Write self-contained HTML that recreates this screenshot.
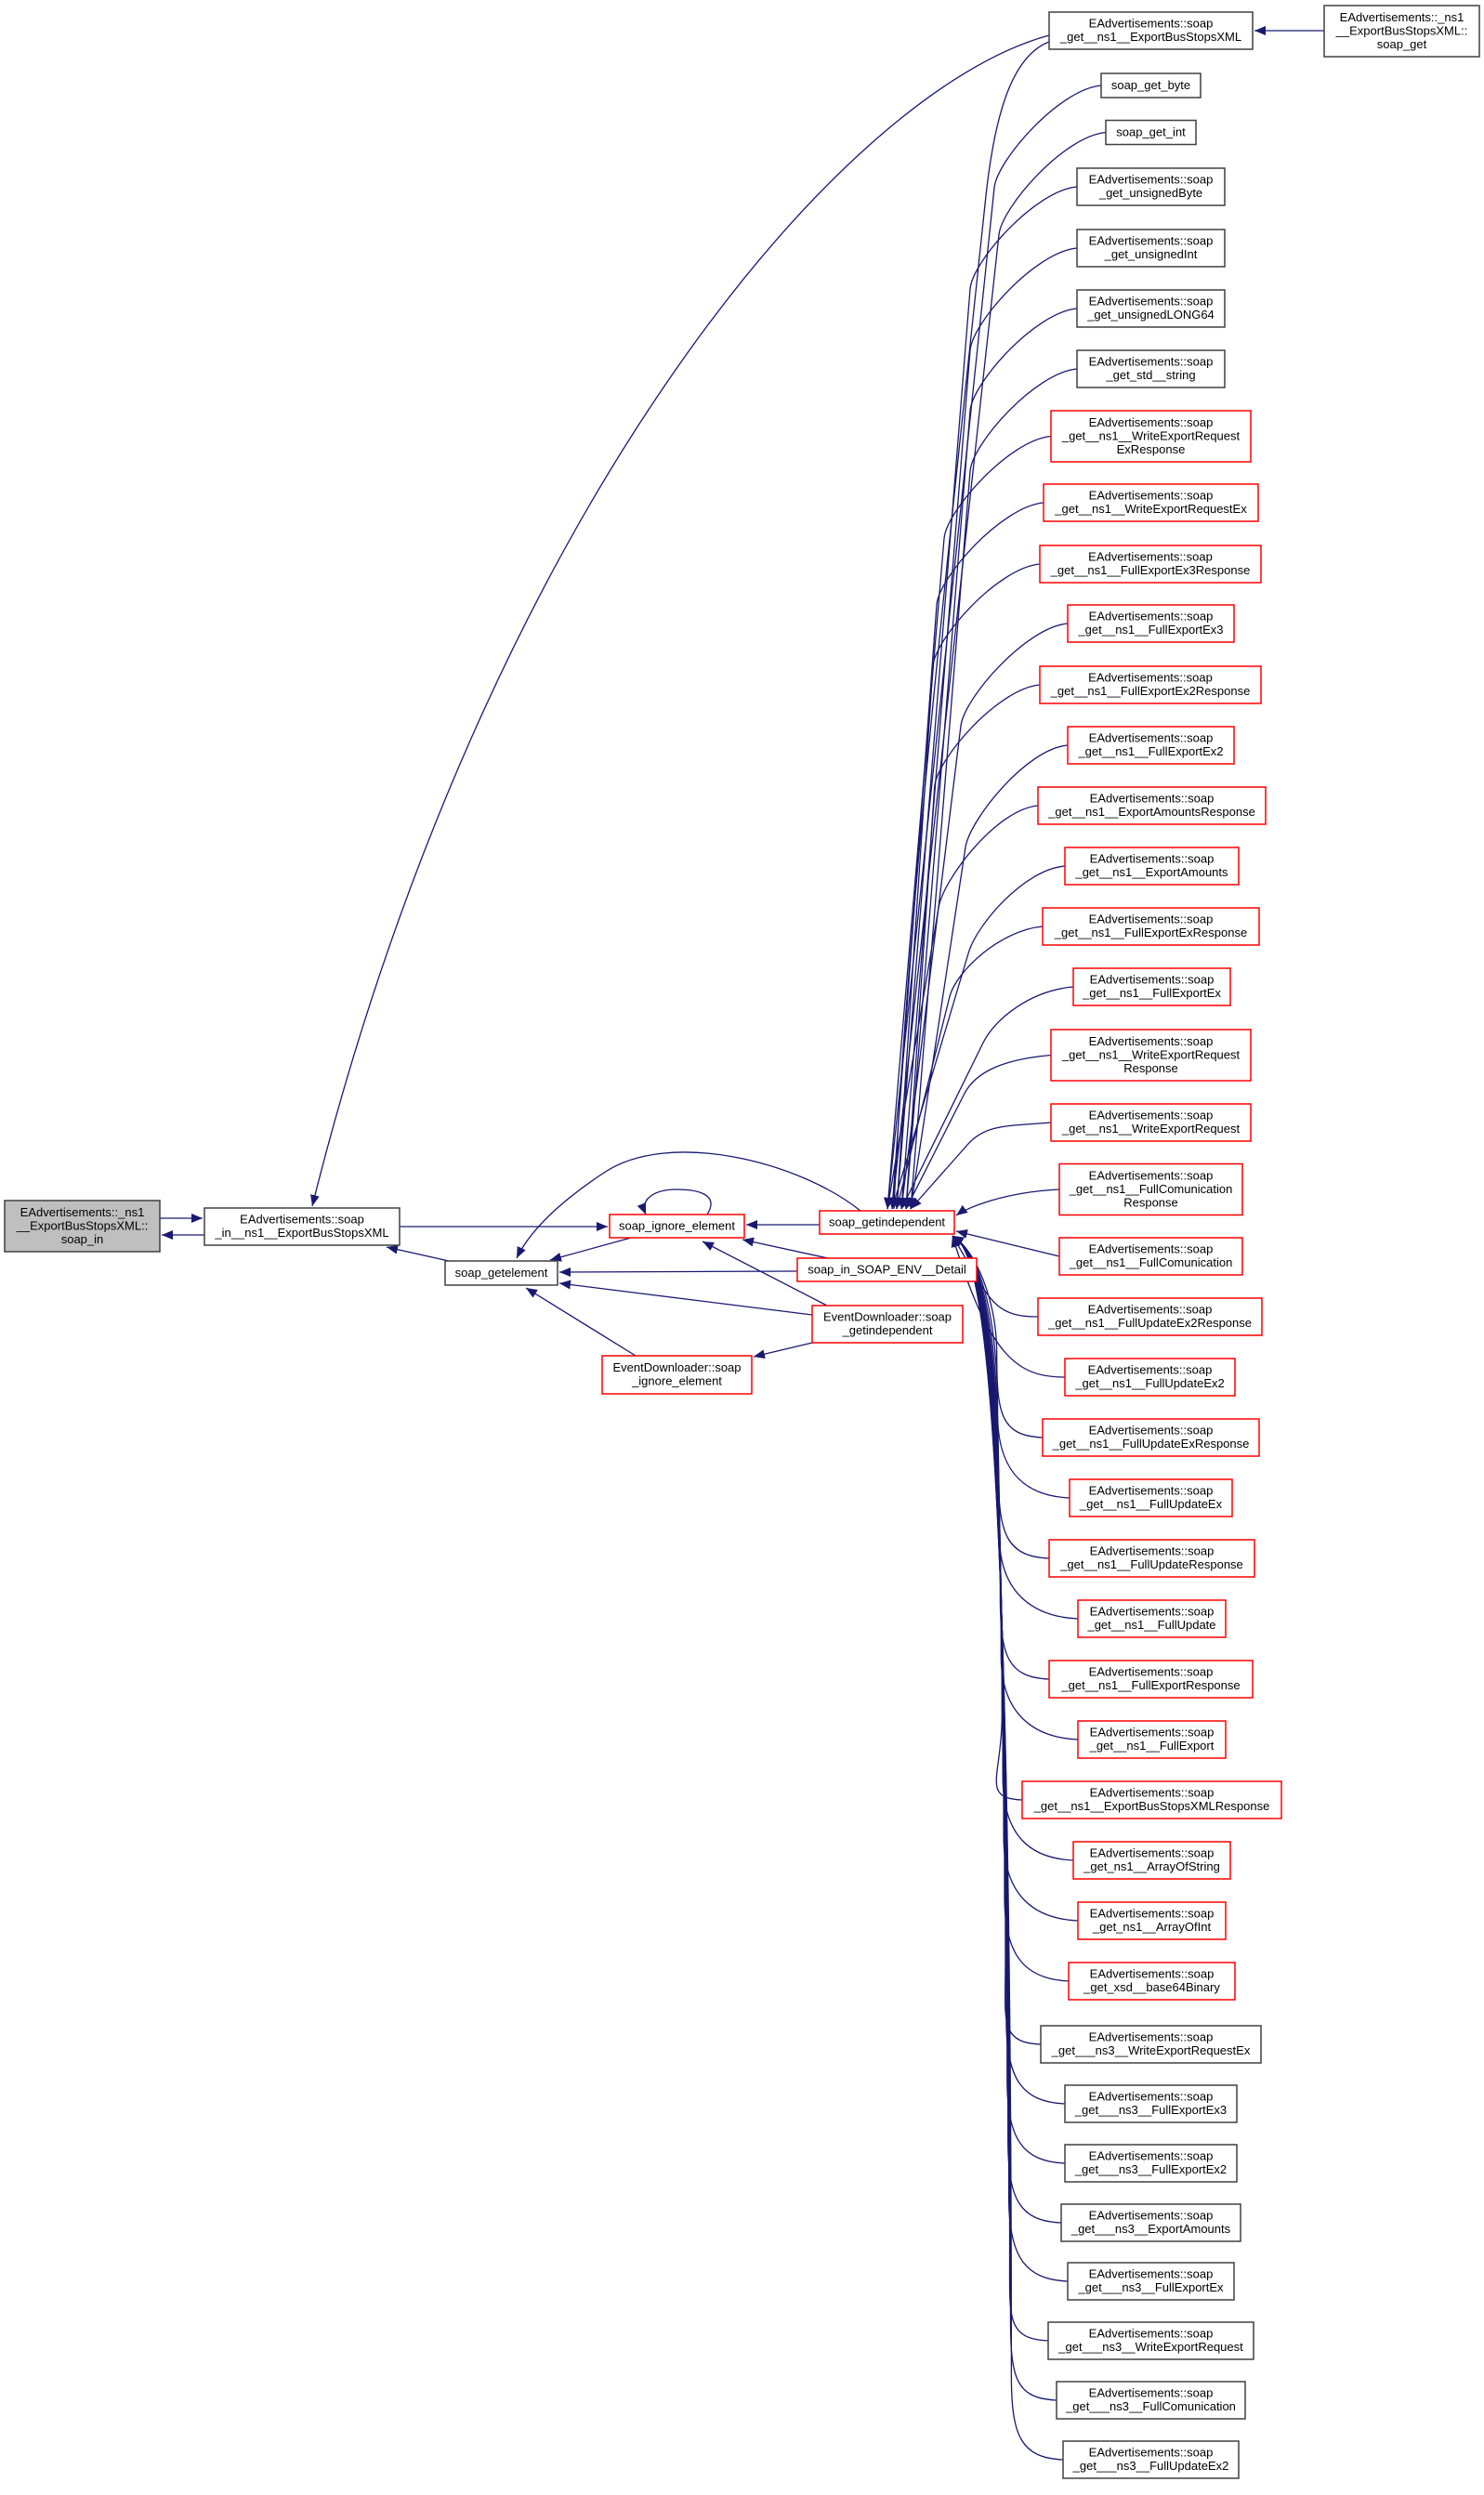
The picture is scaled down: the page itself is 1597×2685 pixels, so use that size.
<!DOCTYPE html>
<html><head><meta charset="utf-8"><style>
html,body{margin:0;padding:0;background:#fff;}
svg{display:block;}
text{font-family:"Liberation Sans",Arial,sans-serif;font-size:13px;fill:#000;}
</style></head><body>
<svg id="s" width="1597" height="2685" viewBox="0 0 1597 2685" xmlns="http://www.w3.org/2000/svg">
<defs>
<marker id="a" markerUnits="userSpaceOnUse" markerWidth="14" markerHeight="12" refX="12" refY="5" orient="auto">
<path d="M0,0 L12,5 L0,10 Z" fill="#191970"/>
</marker>
</defs>
<g id="edges" fill="none" stroke="#191970" stroke-width="1.3"></g>
<g id="nodes"></g>
</svg>
<script>
var E=document.getElementById('edges'),N=document.getElementById('nodes');
var ns='http://www.w3.org/2000/svg';
function path(d){var p=document.createElementNS(ns,'path');p.setAttribute('d',d);p.setAttribute('marker-end','url(#a)');E.appendChild(p);}
function node(x1,y1,x2,y2,lines,col,fill){
 var r=document.createElementNS(ns,'rect');
 r.setAttribute('x',x1);r.setAttribute('y',y1);r.setAttribute('width',x2-x1);r.setAttribute('height',y2-y1);
 r.setAttribute('fill',fill||'#fff');r.setAttribute('stroke',col);r.setAttribute('stroke-width','1.5');N.appendChild(r);
 var n=lines.length,lh=14.5,top=(y1+y2)/2-(n*lh)/2+11;
 for(var i=0;i<n;i++){var t=document.createElementNS(ns,'text');t.setAttribute('x',(x1+x2)/2);t.setAttribute('y',top+i*lh);t.setAttribute('text-anchor','middle');t.textContent=lines[i];N.appendChild(t);}
}
var R='#ff0000',B='#404040';
var nodesR=[
[1185,1292,92,1,['soap_get_byte'],B],
[1190,1287,142.5,1,['soap_get_int'],B],
[1159,1318,201,2,['EAdvertisements::soap','_get_unsignedByte'],B],
[1159,1318,267,2,['EAdvertisements::soap','_get_unsignedInt'],B],
[1159,1318,332,2,['EAdvertisements::soap','_get_unsignedLONG64'],B],
[1159,1318,397,2,['EAdvertisements::soap','_get_std__string'],B],
[1131,1346,469.5,3,['EAdvertisements::soap','_get__ns1__WriteExportRequest','ExResponse'],R],
[1123,1354,541,2,['EAdvertisements::soap','_get__ns1__WriteExportRequestEx'],R],
[1119,1357,607,2,['EAdvertisements::soap','_get__ns1__FullExportEx3Response'],R],
[1149,1328,671,2,['EAdvertisements::soap','_get__ns1__FullExportEx3'],R],
[1119,1357,737,2,['EAdvertisements::soap','_get__ns1__FullExportEx2Response'],R],
[1149,1328,802,2,['EAdvertisements::soap','_get__ns1__FullExportEx2'],R],
[1117,1362,867,2,['EAdvertisements::soap','_get__ns1__ExportAmountsResponse'],R],
[1146,1333,932,2,['EAdvertisements::soap','_get__ns1__ExportAmounts'],R],
[1122,1355,997,2,['EAdvertisements::soap','_get__ns1__FullExportExResponse'],R],
[1155,1324,1062,2,['EAdvertisements::soap','_get__ns1__FullExportEx'],R],
[1131,1346,1135.5,3,['EAdvertisements::soap','_get__ns1__WriteExportRequest','Response'],R],
[1131,1346,1208,2,['EAdvertisements::soap','_get__ns1__WriteExportRequest'],R],
[1140,1337,1280,3,['EAdvertisements::soap','_get__ns1__FullComunication','Response'],R],
[1140,1337,1352,2,['EAdvertisements::soap','_get__ns1__FullComunication'],R],
[1117,1358,1417,2,['EAdvertisements::soap','_get__ns1__FullUpdateEx2Response'],R],
[1146,1329,1482,2,['EAdvertisements::soap','_get__ns1__FullUpdateEx2'],R],
[1122,1355,1547,2,['EAdvertisements::soap','_get__ns1__FullUpdateExResponse'],R],
[1151,1326,1612,2,['EAdvertisements::soap','_get__ns1__FullUpdateEx'],R],
[1129,1350,1677,2,['EAdvertisements::soap','_get__ns1__FullUpdateResponse'],R],
[1160,1319,1742,2,['EAdvertisements::soap','_get__ns1__FullUpdate'],R],
[1129,1348,1807,2,['EAdvertisements::soap','_get__ns1__FullExportResponse'],R],
[1160,1319,1872,2,['EAdvertisements::soap','_get__ns1__FullExport'],R],
[1100,1379,1937,2,['EAdvertisements::soap','_get__ns1__ExportBusStopsXMLResponse'],R],
[1155,1324,2002,2,['EAdvertisements::soap','_get_ns1__ArrayOfString'],R],
[1160,1319,2067,2,['EAdvertisements::soap','_get_ns1__ArrayOfInt'],R],
[1150,1329,2132,2,['EAdvertisements::soap','_get_xsd__base64Binary'],R],
[1120,1357,2200,2,['EAdvertisements::soap','_get___ns3__WriteExportRequestEx'],B],
[1146,1331,2264,2,['EAdvertisements::soap','_get___ns3__FullExportEx3'],B],
[1146,1331,2328,2,['EAdvertisements::soap','_get___ns3__FullExportEx2'],B],
[1142,1335,2392,2,['EAdvertisements::soap','_get___ns3__ExportAmounts'],B],
[1149,1328,2455,2,['EAdvertisements::soap','_get___ns3__FullExportEx'],B],
[1128,1349,2519,2,['EAdvertisements::soap','_get___ns3__WriteExportRequest'],B],
[1137,1340,2583,2,['EAdvertisements::soap','_get___ns3__FullComunication'],B],
[1144,1333,2647,2,['EAdvertisements::soap','_get___ns3__FullUpdateEx2'],B]
];
path('M1129,45 C1090,60 1070,120 1060,220 C1020,600 975,1000 962,1301');
var k=0;
nodesR.forEach(function(n){
 var xl=n[0],yc=n[2];
 if(yc<1250){
  var ex=955+(k%6)*5;k++;
  var d=1303-yc;
  var mx=xl-85-Math.min(30,d*0.05), my=yc+Math.min(110,d*0.25);
  var dx=ex-mx, dy=1301-my, L=Math.sqrt(dx*dx+dy*dy);
  var c2x=mx-dx/L*30, c2y=my-dy/L*30;
  path('M'+xl+','+yc+' C'+(xl-45)+','+(yc+4)+' '+c2x+','+c2y+' '+mx+','+my+' L'+ex+',1301');
 } else if(yc<1300){
  path('M'+xl+','+yc+' C1080,'+(yc+3)+' 1040,1300 1029,1308');
 } else if(yc<1400){
  path('M'+xl+','+yc+' L1029,1325');
 } else if(yc<1500){
  path('M'+xl+','+yc+' C'+(xl-50)+','+yc+' 1065,'+(yc-20)+' 1025,1330');
 } else {
  var bx=1072+Math.min(18,(yc-1500)/70);
  path('M'+xl+','+yc+' C'+(xl-45)+','+(yc-2)+' '+bx+','+(yc-25)+' '+bx+','+(yc-90)+' C'+bx+',1400 1050,1345 1025,1330');
 }
});
path('M1425,33 L1350,33');
path('M172,1311 L218,1311');
path('M220,1329 L174,1329');
path('M430,1320 L654,1320');
path('M483,1357 L416,1342');
path('M679,1332 L592,1356');
path('M882,1318 L803,1318');
path('M926,1303 C860,1250 720,1215 650,1262 C600,1295 570,1325 556,1354');
path('M761,1307 C775,1285 750,1280 728,1280 C705,1280 688,1290 695,1307');
path('M891,1354 L799,1334');
path('M858,1368 L602,1369');
path('M890,1405 L756,1336');
path('M874,1415 L602,1381');
path('M874,1445 L811,1460');
path('M684,1459 L566,1386');
path('M1129,38 C900,100 520,560 336,1298');
node(1129,13,1348,53,['EAdvertisements::soap','_get__ns1__ExportBusStopsXML'],B);
node(1425,6,1592,61,['EAdvertisements::_ns1','__ExportBusStopsXML::','soap_get'],B);
nodesR.forEach(function(n){var h=n[3]==1?26:(n[3]==2?40:55);node(n[0],n[2]-h/2,n[1],n[2]+h/2,n[4],n[5]);});
node(5,1292,172,1347,['EAdvertisements::_ns1','__ExportBusStopsXML::','soap_in'],B,'#bfbfbf');
node(220,1300,430,1340,['EAdvertisements::soap','_in__ns1__ExportBusStopsXML'],B);
node(479,1357,600,1383,['soap_getelement'],B);
node(656,1307,801,1332,['soap_ignore_element'],R);
node(882,1303,1027,1328,['soap_getindependent'],R);
node(858,1354,1051,1379,['soap_in_SOAP_ENV__Detail'],R);
node(874,1405,1036,1445,['EventDownloader::soap','_getindependent'],R);
node(648,1459,809,1500,['EventDownloader::soap','_ignore_element'],R);
</script>
</body></html>
